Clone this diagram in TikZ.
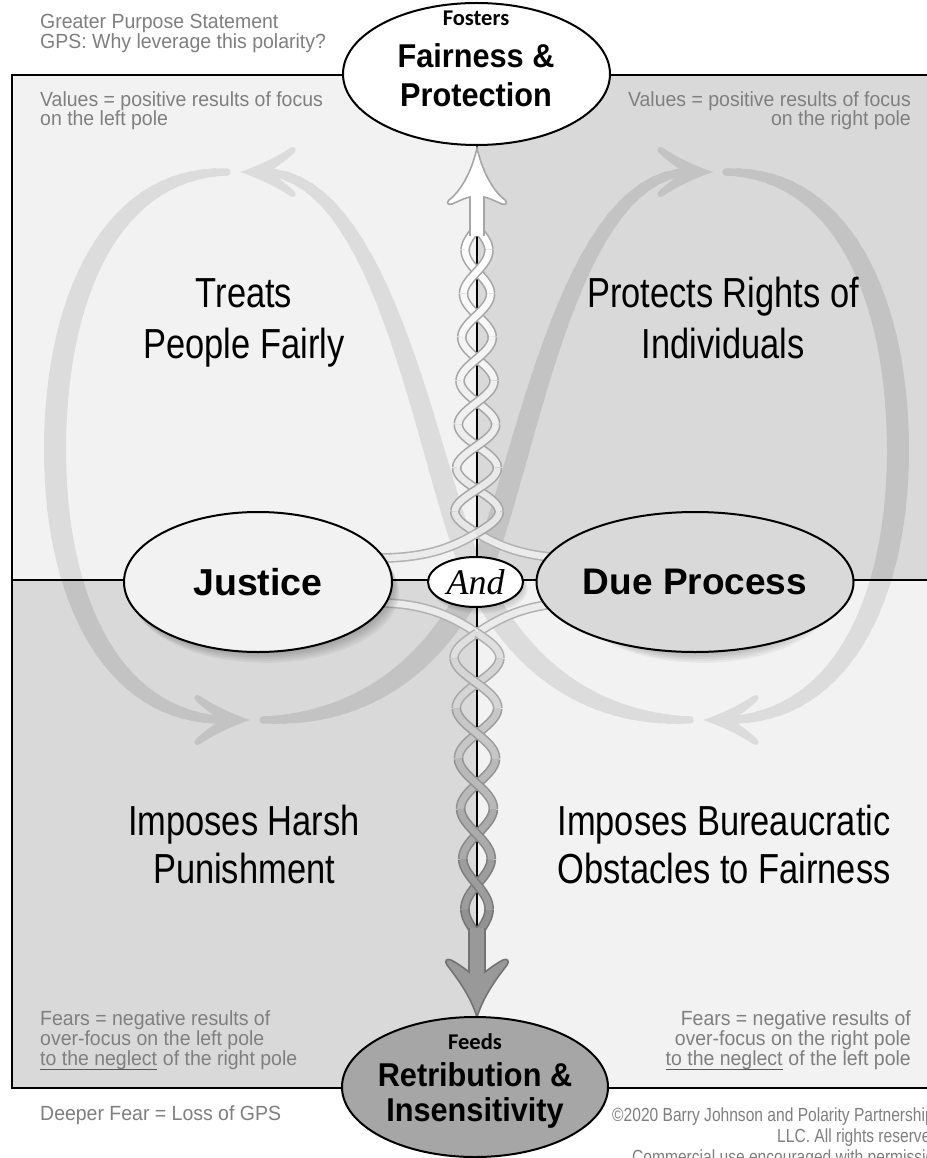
\documentclass[tikz,border=0pt]{standalone}
\usepackage{fontspec}
\setmainfont{Liberation Sans}
\newfontfamily\narrowfont{Liberation Sans}[FakeStretch=0.82]
\newfontfamily\notefont{Liberation Sans}[FakeStretch=0.95]
\newfontfamily\copyfont{Liberation Sans}[FakeStretch=0.82]
\newfontfamily\titlefont{Liberation Sans}[FakeStretch=0.93]
\newfontfamily\calfont{Carlito}
\newfontfamily\andfont{Liberation Serif}
\usetikzlibrary{shapes.geometric}
\definecolor{lightq}{HTML}{F2F2F2}
\definecolor{darkq}{HTML}{D9D9D9}
\definecolor{loopl}{HTML}{DCDCDC}
\definecolor{loopd}{HTML}{C3C3C3}
\definecolor{txtgray}{HTML}{7F7F7F}
\definecolor{botfill}{HTML}{A6A6A6}

% tapered cubic stroke
\newcommand\bz[9]{%
  \foreach \i in {0,...,29}{%
    \pgfmathsetmacro\bzta{\i/30}%
    \pgfmathsetmacro\bztb{(\i+1)/30}%
    \pgfmathsetmacro\bztm{(\i+0.5)/30}%
    \pgfmathsetmacro\bzsa{1-\bzta}%
    \pgfmathsetmacro\bzsb{1-\bztb}%
    \pgfmathsetmacro\bzxa{\bzsa*\bzsa*\bzsa*(#1)+3*\bzsa*\bzsa*\bzta*(#3)+3*\bzsa*\bzta*\bzta*(#5)+\bzta*\bzta*\bzta*(#7)}%
    \pgfmathsetmacro\bzya{\bzsa*\bzsa*\bzsa*(#2)+3*\bzsa*\bzsa*\bzta*(#4)+3*\bzsa*\bzta*\bzta*(#6)+\bzta*\bzta*\bzta*(#8)}%
    \pgfmathsetmacro\bzxb{\bzsb*\bzsb*\bzsb*(#1)+3*\bzsb*\bzsb*\bztb*(#3)+3*\bzsb*\bztb*\bztb*(#5)+\bztb*\bztb*\bztb*(#7)}%
    \pgfmathsetmacro\bzyb{\bzsb*\bzsb*\bzsb*(#2)+3*\bzsb*\bzsb*\bztb*(#4)+3*\bzsb*\bztb*\bztb*(#6)+\bztb*\bztb*\bztb*(#8)}%
    \pgfmathsetmacro\bzw{#9}%
    \draw[line width=\bzw pt] (\bzxa,\bzya) -- (\bzxb,\bzyb);
  }%
}
\newcommand\loophead[3]{%
  \begin{scope}[shift={(#1,#2)}, rotate=#3]
    \fill (0,0) .. controls (-12,-4) and (-32,-12) .. (-50,-24)
      .. controls (-54,-27) and (-58,-23) .. (-54,-19)
      .. controls (-44,-10) and (-36,-4) .. (-28,0)
      .. controls (-36,4) and (-44,10) .. (-54,19)
      .. controls (-58,23) and (-54,27) .. (-50,24)
      .. controls (-32,12) and (-12,4) .. (0,0) -- cycle;
  \end{scope}}
\newcommand\rise{7+15*(1-(1-\bztm)*(1-\bztm))}
\newcommand\fall{7+15*(1-\bztm*\bztm)}
\newcommand\loopall[1]{%
  \begin{scope}[draw=#1, fill=#1, line cap=round]
    \bz{726}{172}{843}{172}{898}{300}{898}{450}{\rise}
    \bz{898}{450}{898}{600}{840}{720}{725}{720}{\fall}
    \loophead{703}{720}{180}
    \bz{690}{720}{590}{720}{520}{666}{477}{580}{\rise}
    \bz{477}{580}{430}{486}{390}{172}{262}{172}{\fall}
    \loophead{240}{172}{180}
    \bz{227}{172}{110}{172}{55}{300}{55}{450}{\rise}
    \bz{55}{450}{55}{600}{113}{720}{228}{720}{\fall}
    \loophead{250}{720}{0}
    \bz{263}{720}{363}{720}{433}{666}{476}{580}{\rise}
    \bz{476}{580}{523}{486}{563}{172}{691}{172}{\fall}
    \loophead{713}{172}{0}
  \end{scope}}

% braid strands
\newcommand\ustrand[3]{%
  \pgfmathsetmacro\brfill{10*(1-(#2+#3)/2520)}%
  \draw[line width=1.6pt, draw=black!35, double=black!\brfill, double distance=6.5pt]
    plot[domain=#2:#3, samples=16, variable=\t]
    ({477+(#1)*(23-12*(\t/1260))*sin(\t)},{533-305*(\t/1260)});
}
\newcommand\lstrand[3]{%
  \pgfmathsetmacro\brfill{11+33*((#2+#3)/2160)}%
  \pgfmathsetmacro\brline{30+25*((#2+#3)/2160)}%
  \draw[line width=1.6pt, draw=black!\brline, double=black!\brfill, double distance=6.5pt]
    plot[domain=#2:#3, samples=16, variable=\t]
    ({477+(#1)*(24-13*(\t/1080))*sin(\t)},{633+302*(\t/1080)});
}

\tikzset{
  pole/.style={ellipse, draw=black, line width=2pt, inner sep=0pt},
  note/.style={inner sep=0pt, text=txtgray, font=\notefont\fontsize{20.5}{24}\selectfont},
  copytext/.style={inner sep=0pt, text=txtgray, anchor=base west, font=\copyfont\fontsize{19}{22}\selectfont},
  big/.style={inner sep=0pt, anchor=base, font=\narrowfont\fontsize{42}{50}\selectfont},
  title/.style={inner sep=0pt, anchor=base, font=\titlefont\bfseries\fontsize{33}{38}\selectfont},
  smalltitle/.style={inner sep=0pt, anchor=base, font=\calfont\bfseries\fontsize{22.5}{27}\selectfont},
  tail/.style={line width=1.6pt, draw=black!30, double=black!8, double distance=6.5pt},
  uline/.style={draw=black!65, line width=1.5pt}
}

\begin{document}
\begin{tikzpicture}[x=1pt,y=-1pt]
\useasboundingbox (0,0) rectangle (926,1158);
\fill[white] (0,0) rectangle (926,1158);

% quadrants
\fill[lightq] (12,75) rectangle (477,580);
\fill[darkq] (477,75) rectangle (950,580);
\fill[darkq] (12,580) rectangle (477,1088);
\fill[lightq] (477,580) rectangle (950,1088);

% infinity loop
\begin{scope}
  \clip (12,75) rectangle (477,580) (477,580) rectangle (950,1088);
  \loopall{loopl}
\end{scope}
\begin{scope}
  \clip (477,75) rectangle (950,580) (12,580) rectangle (477,1088);
  \loopall{loopd}
\end{scope}

% frame and axes
\draw[line width=2.2pt] (12,75) rectangle (950,1088);
\draw[line width=2pt] (12,580) -- (950,580);
\draw[line width=2pt] (477,75) -- (477,1088);

% upper braid
\draw[tail] (574,558) .. controls (524,558) and (497,545) .. (477,533);
\foreach \a/\b in {90/270,450/630,810/990,1170/1260} {\ustrand{1}{\a}{\b}}
\foreach \a/\b in {0/90,270/450,630/810,990/1170} {\ustrand{-1}{\a}{\b}}
\draw[tail] (380,558) .. controls (430,558) and (457,545) .. (477,533);
\foreach \a/\b in {0/90,270/450,630/810,990/1170} {\ustrand{1}{\a}{\b}}
\foreach \a/\b in {90/270,450/630,810/990,1170/1260} {\ustrand{-1}{\a}{\b}}
\filldraw[fill=white, draw=black!35, line width=1.6pt]
  (484,236) -- (484,197) .. controls (489,198) and (495,201) .. (502,204)
  .. controls (506,205) and (508,203) .. (505,200)
  .. controls (492,190) and (482,170) .. (477,148)
  .. controls (472,170) and (462,190) .. (449,200)
  .. controls (446,203) and (448,205) .. (452,204)
  .. controls (459,201) and (465,198) .. (470,197) -- (470,236);

% lower braid
\draw[tail] (574,603) .. controls (524,603) and (495,621) .. (477,633);
\draw[tail] (380,603) .. controls (430,603) and (459,621) .. (477,633);
\foreach \a/\b in {90/270,450/630,810/990} {\lstrand{1}{\a}{\b}}
\foreach \a/\b in {0/90,270/450,630/810,990/1080} {\lstrand{-1}{\a}{\b}}
\foreach \a/\b in {0/90,270/450,630/810,990/1080} {\lstrand{1}{\a}{\b}}
\foreach \a/\b in {90/270,450/630,810/990} {\lstrand{-1}{\a}{\b}}
\filldraw[fill=black!40, draw=black!55, line width=1.6pt]
  (485,928) -- (485,972) .. controls (490,968) and (497,963) .. (503,960)
  .. controls (507,958) and (510,961) .. (507,965)
  .. controls (497,978) and (484,995) .. (477,1017)
  .. controls (470,995) and (457,978) .. (447,965)
  .. controls (444,961) and (447,958) .. (451,960)
  .. controls (457,963) and (464,968) .. (469,972) -- (469,928);

% shadows
\foreach \k in {1,...,6} {
  \fill[black, opacity=0.045] (258+\k*1.2,582+\k*1.8) ellipse [x radius=134, y radius=70];
  \fill[black, opacity=0.045] (695+\k*1.2,582+\k*1.8) ellipse [x radius=134, y radius=70];
  \fill[black, opacity=0.03] (475.5+\k*0.8,582+\k*1.2) ellipse [x radius=47.5, y radius=25];
}

% poles
\node[pole, fill=lightq, minimum width=268, minimum height=140, font=\bfseries\fontsize{37.5}{44}\selectfont] (justice) at (258,582) {Justice};
\node[pole, fill=darkq, minimum width=268, minimum height=140, font=\bfseries\fontsize{37}{44}\selectfont] (dueprocess) at (695,582) {Due Process};
\node[pole, fill=white, minimum width=95, minimum height=50, font=\andfont\itshape\fontsize{36}{40}\selectfont] (andnode) at (475.5,582) {And};
\node[pole, fill=white, minimum width=267, minimum height=142] (topgoal) at (476.5,74) {};
\node[pole, fill=botfill, minimum width=266, minimum height=140] (botfear) at (475,1087) {};

% ellipse texts
\node[smalltitle] (fost) at (476,26) {Fosters};
\node[title] (fp1) at (476,68) {Fairness \&};
\node[title] (fp2) at (476,107) {Protection};
\node[smalltitle] (feeds) at (475,1049) {Feeds};
\node[title] (ri1) at (475,1086) {Retribution \&};
\node[title] (ri2) at (475,1121) {Insensitivity};

% quadrant labels
\node[big] (tp1) at (244,307) {Treats};
\node[big] (tp2) at (244,358) {People Fairly};
\node[big] (pr1) at (723,307) {Protects Rights of};
\node[big] (pr2) at (723,358) {Individuals};
\node[big] (ih1) at (244,835) {Imposes Harsh};
\node[big] (ih2) at (244,883) {Punishment};
\node[big] (ib1) at (724,835) {Imposes Bureaucratic};
\node[big] (ib2) at (724,883) {Obstacles to Fairness};

% notes
\node[note, anchor=base west] (gps1) at (40,29) {Greater Purpose Statement};
\node[note, anchor=base west] (gps2) at (40,49) {GPS: Why leverage this polarity?};
\node[note, anchor=base west] (vl1) at (40,107) {Values = positive results of focus};
\node[note, anchor=base west] (vl2) at (40,126) {on the left pole};
\node[note, anchor=base east] (vr1) at (911,107) {Values = positive results of focus};
\node[note, anchor=base east] (vr2) at (911,126) {on the right pole};
\node[note, anchor=base west] (fl1) at (40,1025) {Fears = negative results of};
\node[note, anchor=base west] (fl2) at (40,1045) {over-focus on the left pole};
\node[note, anchor=base west] (fl3a) at (40,1065) {to the neglect};
\node[note, anchor=base west] (fl3b) at (fl3a.base east) {\ of the right pole};
\node[note, anchor=base east] (fr1) at (911,1025) {Fears = negative results of};
\node[note, anchor=base east] (fr2) at (911,1045) {over-focus on the right pole};
\node[note, anchor=base east] (fr3b) at (911,1065) {\ of the left pole};
\node[note, anchor=base east] (fr3a) at (fr3b.base west) {to the neglect};
\draw[uline] ([yshift=-4.5pt]fl3a.base west) -- ([yshift=-4.5pt]fl3a.base east);
\draw[uline] ([yshift=-4.5pt]fr3a.base west) -- ([yshift=-4.5pt]fr3a.base east);
\node[note, anchor=base west] (deeper) at (40,1120) {Deeper Fear = Loss of GPS};

% copyright (clipped by the right edge, as in the reference)
\node[copytext] (c1) at (612,1121) {©2020 Barry Johnson and Polarity Partnerships,};
\node[copytext] (c2) at (777,1142) {LLC. All rights reserved.};
\node[copytext] (c3) at (632,1163) {Commercial use encouraged with permission.};
\end{tikzpicture}
\end{document}
